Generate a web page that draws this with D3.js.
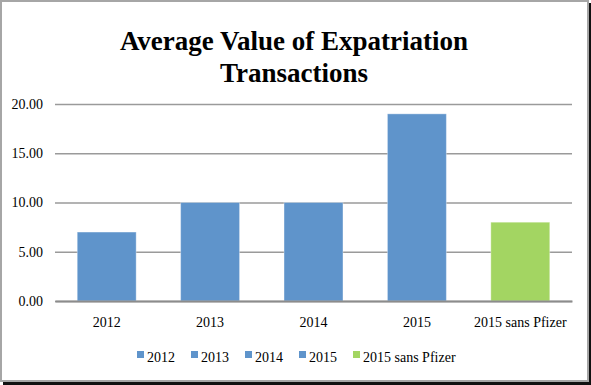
<!DOCTYPE html>
<html>
<head>
<meta charset="utf-8">
<script src="https://cdn.jsdelivr.net/npm/d3@7"></script>
<style>
  body { margin: 0; background: #fff; }
  svg { display: block; }
</style>
</head>
<body>
<svg></svg>
<script>
const width = 591;
const height = 385;

// -----------------------------
// DATA
// -----------------------------
const categories = ["2012", "2013", "2014", "2015", "2015 sans Pfizer"];
const values = [7.0, 10.0, 10.0, 19.0, 8.0];
const yTicks = [0, 5, 10, 15, 20];
const title = ["Average Value of Expatriation", "Transactions"];

const blue = "#5f94cb";
const green = "#a3d562";
const colors = [blue, blue, blue, blue, green];
const font = "'Liberation Serif', 'DejaVu Serif', serif";

const svg = d3.select("svg")
  .attr("width", width)
  .attr("height", height);

// -----------------------------
// FRAME
// -----------------------------
svg.append("rect")
  .attr("x", 3).attr("y", 3)
  .attr("width", 588).attr("height", 382)
  .attr("fill", "#111");

svg.append("rect")
  .attr("x", 1).attr("y", 1)
  .attr("width", 587).attr("height", 380)
  .attr("fill", "#fff")
  .attr("stroke", "#a6a6a6")
  .attr("stroke-width", 2);

// -----------------------------
// TITLE
// -----------------------------
svg.append("text")
  .attr("x", 294)
  .attr("text-anchor", "middle")
  .attr("font-family", font)
  .attr("font-weight", "bold")
  .attr("font-size", 27)
  .selectAll("tspan")
  .data(title)
  .join("tspan")
  .attr("x", 294)
  .attr("y", (d, i) => 50 + i * 32)
  .text(d => d);

// -----------------------------
// SCALES
// -----------------------------
const x = d3.scaleBand()
  .domain(categories)
  .range([55, 572])
  .paddingInner(0.43)
  .paddingOuter(0.215);

const y = d3.scaleLinear()
  .domain([0, 20])
  .range([301, 104]);

// -----------------------------
// GRID + Y AXIS
// -----------------------------
const yAxis = svg.append("g")
  .attr("transform", "translate(55,0)")
  .call(d3.axisLeft(y)
    .tickValues(yTicks)
    .tickSize(-517)
    .tickPadding(12)
    .tickFormat(d3.format(".2f")));

yAxis.select(".domain").remove();
yAxis.selectAll(".tick line")
  .attr("stroke", "#9a9a9a")
  .attr("stroke-width", 1.5);
yAxis.selectAll(".tick text")
  .attr("font-family", font)
  .attr("font-size", 14)
  .attr("fill", "#000");

// -----------------------------
// BARS
// -----------------------------
svg.append("g")
  .selectAll("rect")
  .data(categories)
  .join("rect")
  .attr("x", d => x(d))
  .attr("y", (d, i) => y(values[i]))
  .attr("width", x.bandwidth())
  .attr("height", (d, i) => y(0) - y(values[i]))
  .attr("fill", (d, i) => colors[i])
  .attr("stroke", "rgba(255,255,255,0.35)")
  .attr("stroke-width", 1);

// -----------------------------
// X AXIS
// -----------------------------
const xAxis = svg.append("g")
  .attr("transform", "translate(0,301)")
  .call(d3.axisBottom(x).tickSize(0).tickPadding(16));

xAxis.select(".domain")
  .attr("stroke", "#8c8c8c")
  .attr("stroke-width", 2);
xAxis.selectAll(".tick text")
  .attr("font-family", font)
  .attr("font-size", 14)
  .attr("fill", "#000");

// -----------------------------
// LEGEND
// -----------------------------
const legend = svg.append("g");
let lx = 137;
categories.forEach((c, i) => {
  legend.append("rect")
    .attr("x", lx)
    .attr("y", 351)
    .attr("width", 7)
    .attr("height", 7)
    .attr("fill", colors[i]);
  const t = legend.append("text")
    .attr("x", lx + 10)
    .attr("y", 362)
    .attr("font-family", font)
    .attr("font-size", 14)
    .text(c);
  lx += 10 + t.node().getComputedTextLength() + 16;
});
</script>
</body>
</html>
